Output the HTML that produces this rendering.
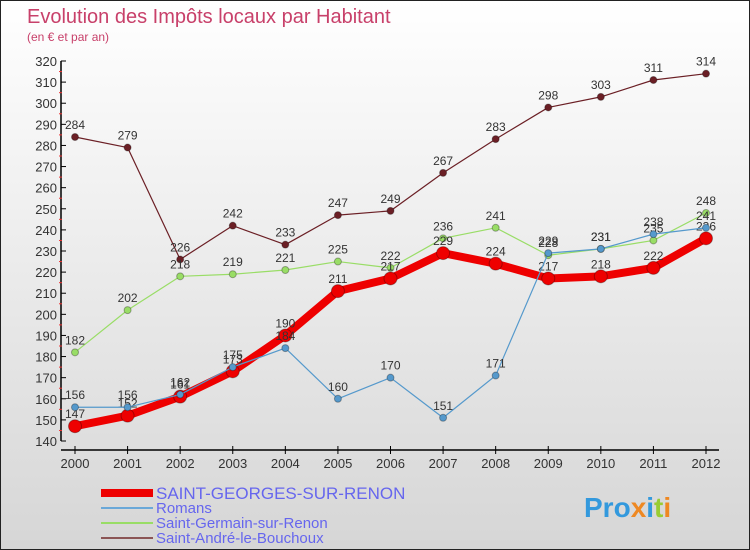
<!DOCTYPE html>
<html><head><meta charset="utf-8"><style>
body{margin:0}
#c{width:750px;height:550px;position:relative;box-sizing:border-box;border:1px solid #222;background:linear-gradient(#fff,#d6d6d6);font-family:"Liberation Sans",sans-serif;overflow:hidden}
</style></head><body>
<div id="c">
<svg width="748" height="548" xmlns="http://www.w3.org/2000/svg" id="s">
<text x="26" y="22" font-size="20" fill="#c8406a">Evolution des Impôts locaux par Habitant</text>
<text x="26" y="40" font-size="12" fill="#c8406a">(en € et par an)</text>
<g id="ax"></g><g id="ser"></g>
<g font-size="15" fill="#6666ee">
<line x1="100" y1="492" x2="152" y2="492" stroke="#e00" stroke-width="8"/>
<text x="155" y="498" font-size="17">SAINT-GEORGES-SUR-RENON</text>
<line x1="100" y1="507" x2="152" y2="507" stroke="#6aa8d8" stroke-width="2"/>
<text x="155" y="512">Romans</text>
<line x1="100" y1="522" x2="152" y2="522" stroke="#99dd66" stroke-width="2"/>
<text x="155" y="527">Saint-Germain-sur-Renon</text>
<line x1="100" y1="537" x2="152" y2="537" stroke="#8b5555" stroke-width="2"/>
<text x="155" y="542">Saint-André-le-Bouchoux</text>
</g>
<g font-size="28" font-weight="bold">
<text x="583" y="516" fill="#3399dd">Pro<tspan fill="#ee8822">x</tspan><tspan fill="#3399dd">i</tspan><tspan fill="#99cc33">t</tspan><tspan fill="#ee8822">i</tspan></text>
</g>
</svg>
</div>
<script>
const years=[2000,2001,2002,2003,2004,2005,2006,2007,2008,2009,2010,2011,2012];
const yTicks=[140,150,160,170,180,190,200,210,220,230,240,250,260,270,280,290,300,310,320];
const stGeorges=[147,152,161,173,190,211,217,229,224,217,218,222,236];
const romans=[156,156,162,175,184,160,170,151,171,229,231,238,241];
const stGermain=[182,202,218,219,221,225,222,236,241,228,231,235,248];
const stAndre=[284,279,226,242,233,247,249,267,283,298,303,311,314];
const NS="http://www.w3.org/2000/svg";
const X=i=>74+i*(631/12);
const Y=v=>440-(v-140)*(380/180);
function mk(t,a,p){const e=document.createElementNS(NS,t);for(const k in a)e.setAttribute(k,a[k]);p.appendChild(e);return e;}
const ax=document.getElementById('ax');
const yl=mk('line',{x1:60,y1:Y(320),x2:60,y2:Y(140),stroke:'#000','stroke-width':1.5},ax);


const xl=mk('line',{x1:60,y1:449,x2:718,y2:449,stroke:'#000','stroke-width':1.5},ax);


yTicks.forEach((v,k)=>{
  mk('line',{x1:60,y1:Y(v),x2:65,y2:Y(v),stroke:'#000'},ax);
  if(k<yTicks.length-1) mk('line',{x1:58,y1:Y(v+5),x2:61,y2:Y(v+5),stroke:'#e33'},ax);
  const t=mk('text',{x:56,y:Y(v)+5,'text-anchor':'end','font-size':13,fill:'#333'},ax);
  
  
  t.textContent=v;
});
years.forEach((y,i)=>{
  mk('line',{x1:X(i),y1:445,x2:X(i),y2:453,stroke:'#000'},ax);
  const t=mk('text',{x:X(i),y:467,'text-anchor':'middle','font-size':13,fill:'#333'},ax);
  
  
  t.textContent=y;
});
const ser=document.getElementById('ser');
function draw(vals,color,w,r,name){
  const g=mk('g',{},ser);
  
  
  const pl=mk('polyline',{points:vals.map((v,i)=>X(i)+','+Y(v)).join(' '),fill:'none',stroke:color,'stroke-width':w,'stroke-linejoin':'round'},g);
  
  
  vals.forEach((v,i)=>{
    const c=mk('circle',{cx:X(i),cy:Y(v),r:r,fill:color,stroke:'rgba(0,0,0,0.3)'},g);
    
    
    const t=mk('text',{x:X(i),y:Y(v)-8,'text-anchor':'middle','font-size':12,fill:'#333'},g);
    
    
    t.textContent=v;
  });
}
draw(stAndre,'#6b1f25',1.2,3.5,'saint-andre');
draw(stGermain,'#99dd66',1.2,3.5,'saint-germain');
draw(stGeorges,'#ee0000',8,6.5,'saint-georges');
draw(romans,'#5599cc',1.2,3.5,'romans');
</script>
</body></html>
